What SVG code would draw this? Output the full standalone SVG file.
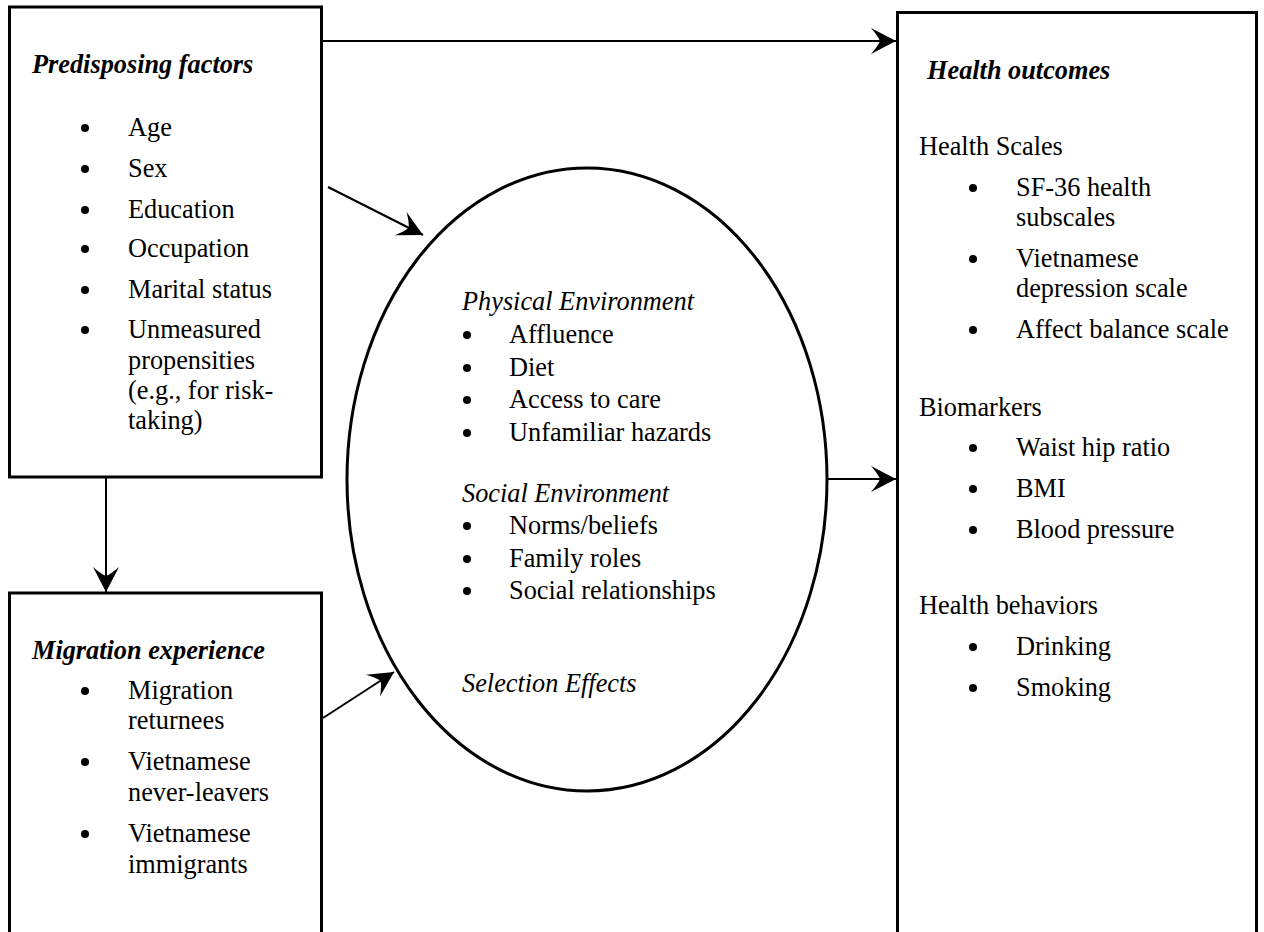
<svg xmlns="http://www.w3.org/2000/svg" width="1264" height="932" viewBox="0 0 1264 932">
<style>
  .box { fill: #fff; stroke: #000; stroke-width: 3; }
  .ell { fill: none; stroke: #000; stroke-width: 3; }
  .con { stroke: #000; stroke-width: 2; fill: none; }
  text { font-family: "Liberation Serif", "Times New Roman", serif; font-size: 26.3px; fill: #000; }
  .h { font-weight: bold; font-style: italic; }
  .i { font-style: italic; }
  .b { fill: #000; }
</style>
<defs>
  <marker id="arr" markerUnits="userSpaceOnUse" viewBox="-26 -14 27 28" refX="0" refY="0" markerWidth="27" markerHeight="28" orient="auto">
    <path d="M0,0 L-25,-13 Q-18,-5 -16,0 Q-18,5 -25,13 Z" fill="#000"/>
  </marker>
</defs>
<rect width="1264" height="932" fill="#fff"/>

<g id="connectors">
  <line class="con" x1="322" y1="41" x2="896" y2="41" marker-end="url(#arr)"/>
  <line class="con" x1="328" y1="187" x2="423" y2="235" marker-end="url(#arr)"/>
  <line class="con" x1="106" y1="478" x2="106" y2="592" marker-end="url(#arr)"/>
  <line class="con" x1="323" y1="718" x2="394" y2="672" marker-end="url(#arr)"/>
  <line class="con" x1="827" y1="479" x2="896" y2="479" marker-end="url(#arr)"/>
</g>

<g id="predisposing">
  <rect class="box" x="9.5" y="7" width="312" height="470"/>
  <text class="h" x="32" y="73">Predisposing factors</text>
  <circle class="b" cx="85" cy="128" r="4"/><text x="128" y="136">Age</text>
  <circle class="b" cx="85" cy="169" r="4"/><text x="128" y="177">Sex</text>
  <circle class="b" cx="85" cy="210" r="4"/><text x="128" y="218">Education</text>
  <circle class="b" cx="85" cy="249" r="4"/><text x="128" y="257">Occupation</text>
  <circle class="b" cx="85" cy="290" r="4"/><text x="128" y="298">Marital status</text>
  <circle class="b" cx="85" cy="330" r="4"/><text x="128" y="338">Unmeasured</text>
  <text x="128" y="369">propensities</text>
  <text x="128" y="399">(e.g., for risk-</text>
  <text x="128" y="429">taking)</text>
</g>

<g id="migration">
  <rect class="box" x="9.5" y="593" width="312" height="400"/>
  <text class="h" x="32" y="659">Migration experience</text>
  <circle class="b" cx="85" cy="691" r="4"/><text x="128" y="699">Migration</text>
  <text x="128" y="729">returnees</text>
  <circle class="b" cx="85" cy="762" r="4"/><text x="128" y="770">Vietnamese</text>
  <text x="128" y="801">never-leavers</text>
  <circle class="b" cx="85" cy="834" r="4"/><text x="128" y="842">Vietnamese</text>
  <text x="128" y="873">immigrants</text>
</g>

<g id="environment">
  <ellipse class="ell" cx="587" cy="479.5" rx="240" ry="311.5"/>
  <text class="i" x="462" y="310">Physical Environment</text>
  <circle class="b" cx="467" cy="335" r="4"/><text x="509" y="343">Affluence</text>
  <circle class="b" cx="467" cy="368" r="4"/><text x="509" y="376">Diet</text>
  <circle class="b" cx="467" cy="400" r="4"/><text x="509" y="408">Access to care</text>
  <circle class="b" cx="467" cy="433" r="4"/><text x="509" y="441">Unfamiliar hazards</text>
  <text class="i" x="462" y="502">Social Environment</text>
  <circle class="b" cx="467" cy="526" r="4"/><text x="509" y="534">Norms/beliefs</text>
  <circle class="b" cx="467" cy="559" r="4"/><text x="509" y="567">Family roles</text>
  <circle class="b" cx="467" cy="591" r="4"/><text x="509" y="599">Social relationships</text>
  <text class="i" x="462" y="692">Selection Effects</text>
</g>

<g id="outcomes">
  <rect class="box" x="897.5" y="12.5" width="359" height="1000"/>
  <text class="h" x="927" y="79">Health outcomes</text>
  <text x="919" y="155">Health Scales</text>
  <circle class="b" cx="973" cy="188" r="4"/><text x="1016" y="196">SF-36 health</text>
  <text x="1016" y="226">subscales</text>
  <circle class="b" cx="973" cy="259" r="4"/><text x="1016" y="267">Vietnamese</text>
  <text x="1016" y="297">depression scale</text>
  <circle class="b" cx="973" cy="330" r="4"/><text x="1016" y="338">Affect balance scale</text>
  <text x="919" y="416">Biomarkers</text>
  <circle class="b" cx="973" cy="448" r="4"/><text x="1016" y="456">Waist hip ratio</text>
  <circle class="b" cx="973" cy="489" r="4"/><text x="1016" y="497">BMI</text>
  <circle class="b" cx="973" cy="530" r="4"/><text x="1016" y="538">Blood pressure</text>
  <text x="919" y="614">Health behaviors</text>
  <circle class="b" cx="973" cy="647" r="4"/><text x="1016" y="655">Drinking</text>
  <circle class="b" cx="973" cy="688" r="4"/><text x="1016" y="696">Smoking</text>
</g>
</svg>
